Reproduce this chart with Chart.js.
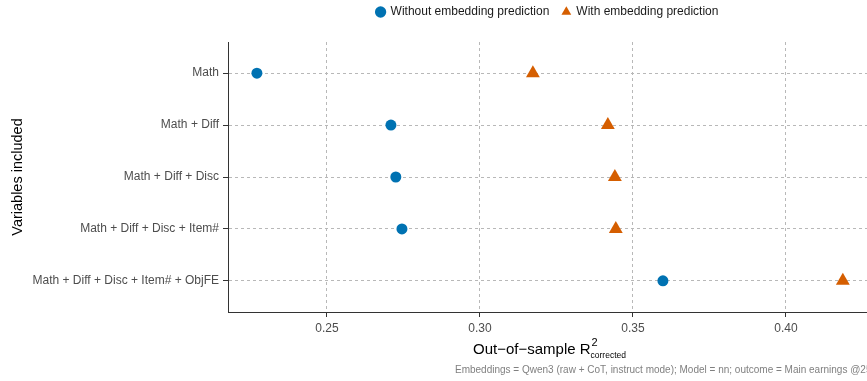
<!DOCTYPE html>
<html>
<head>
<meta charset="utf-8">
<script src="https://cdn.jsdelivr.net/npm/chart.js@4.4.1/dist/chart.umd.min.js"></script>
<style>
  html, body { margin: 0; padding: 0; background: #fff; }
  #wrap { width: 867px; height: 381px; position: relative; }
</style>
</head>
<body>
<div id="wrap"><canvas id="r2Chart"></canvas></div>
<script>
// Variable sets (top to bottom) and out-of-sample R² for each
const variableSets = [
    'Math',
    'Math + Diff',
    'Math + Diff + Disc',
    'Math + Diff + Disc + Item#',
    'Math + Diff + Disc + Item# + ObjFE'
];
const withoutEmbedding = [0.2271, 0.2709, 0.2725, 0.2745, 0.3598];
const withEmbedding = [0.3173, 0.3418, 0.3441, 0.3444, 0.4186];
const xTicks = [0.25, 0.30, 0.35, 0.40];

const FONT = "'Liberation Sans', Arial, Helvetica, sans-serif";
const BLUE = '#0072B2';
const ORANGE = '#D55E00';

function toPoints(values) {
    return values.map((v, i) => ({ x: v, y: i + 1 }));
}

// keep the legend strip a fixed height so the plot starts lower
const legendHeight = {
    id: 'legendHeight',
    afterInit(chart) {
        const lg = chart.legend;
        if (!lg) return;
        const fit = lg.fit.bind(lg);
        lg.fit = function () {
            fit();
            this.height = 49;
        };
    }
};

// x-axis title with super/subscript, plus the caption line underneath
const annotations = {
    id: 'annotations',
    afterDraw(chart) {
        const { ctx, chartArea } = chart;
        ctx.save();
        ctx.fillStyle = '#000';
        ctx.textBaseline = 'alphabetic';
        ctx.textAlign = 'left';
        const main = 'Out\u2212of\u2212sample R';
        ctx.font = `15px ${FONT}`;
        const wMain = ctx.measureText(main).width;
        ctx.font = `8.5px ${FONT}`;
        const wSub = ctx.measureText('corrected').width;
        const total = wMain + wSub;
        const cx = (chartArea.left + chartArea.right) / 2 + 2;
        let x = cx - total / 2;
        const base = 354;
        ctx.font = `15px ${FONT}`;
        ctx.fillText(main, x, base);
        x += wMain + 1;
        ctx.font = `11px ${FONT}`;
        ctx.fillText('2', x, base - 8);
        ctx.font = `8.5px ${FONT}`;
        ctx.fillText('corrected', x - 1, base + 3.5);

        ctx.fillStyle = '#808080';
        ctx.font = `10px ${FONT}`;
        ctx.fillText('Embeddings = Qwen3 (raw + CoT, instruct mode); Model = nn; outcome = Main earnings @25', 455, 373);
        ctx.restore();
    }
};

new Chart(document.getElementById('r2Chart'), {
    type: 'scatter',
    data: {
        datasets: [
            {
                label: 'Without embedding prediction',
                data: toPoints(withoutEmbedding),
                pointStyle: 'circle',
                pointRadius: 5.5,
                pointHoverRadius: 5.5,
                backgroundColor: BLUE,
                borderColor: BLUE,
                borderWidth: 0
            },
            {
                label: 'With embedding prediction',
                data: toPoints(withEmbedding),
                pointStyle: 'triangle',
                pointRadius: 8,
                pointHoverRadius: 8,
                backgroundColor: ORANGE,
                borderColor: ORANGE,
                borderWidth: 0
            }
        ]
    },
    options: {
        responsive: true,
        maintainAspectRatio: false,
        animation: false,
        layout: { autoPadding: false, padding: { top: -7, right: 0, bottom: 0, left: 0 } },
        plugins: {
            tooltip: { enabled: false },
            legend: {
                position: 'top',
                fullSize: false,
                labels: {
                    usePointStyle: true,
                    boxWidth: 8,
                    boxHeight: 8,
                    padding: 13,
                    color: '#1a1a1a',
                    font: { family: FONT, size: 12 }
                }
            }
        },
        scales: {
            x: {
                type: 'linear',
                min: 0.21765,
                max: 0.4265,
                afterBuildTicks: (scale) => {
                    scale.ticks = xTicks.map(v => ({ value: v }));
                },
                afterFit: (scale) => { scale.height = 69; },
                ticks: {
                    callback: (v) => v.toFixed(2),
                    color: '#4d4d4d',
                    padding: 4,
                    maxRotation: 0,
                    font: { family: FONT, size: 12 }
                },
                grid: {
                    color: '#b8b8b8',
                    lineWidth: 1,
                    tickLength: 5,
                    tickColor: '#333',
                    tickBorderDash: []
                },
                border: { display: true, color: '#333', width: 1, dash: [3, 3] }
            },
            y: {
                type: 'linear',
                reverse: true,
                min: 0.4,
                max: 5.6,
                afterBuildTicks: (scale) => {
                    scale.ticks = variableSets.map((_, i) => ({ value: i + 1 }));
                },
                afterFit: (scale) => { scale.width = 228; },
                ticks: {
                    callback: (v) => variableSets[v - 1],
                    color: '#4d4d4d',
                    padding: 4,
                    font: { family: FONT, size: 12 }
                },
                grid: {
                    color: '#b8b8b8',
                    lineWidth: 1,
                    tickLength: 5,
                    tickColor: '#333',
                    tickBorderDash: []
                },
                border: { display: true, color: '#333', width: 1, dash: [3, 3] },
                title: {
                    display: true,
                    text: 'Variables included',
                    color: '#000',
                    padding: { top: 9, bottom: 4 },
                    font: { family: FONT, size: 14.5 }
                }
            }
        }
    },
    plugins: [legendHeight, annotations]
});
</script>
</body>
</html>
